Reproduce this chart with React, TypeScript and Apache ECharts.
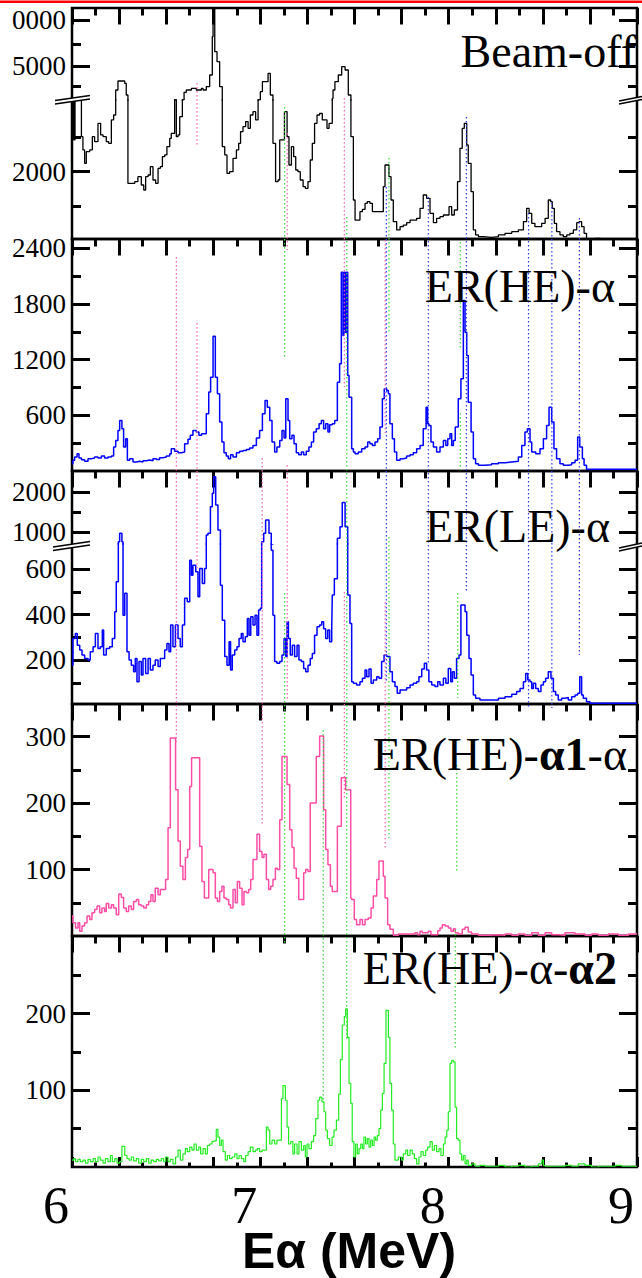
import React, { useEffect, useRef } from 'react';
import * as echarts from 'echarts';

// ---------------- data ----------------
const energyMin = 6;
const energyMax = 9;
const energyTickLabels = [6, 7, 8, 9];
const axisTitle = 'Eα (MeV)';

// [energy (MeV) at bin left edge, counts]
const beamOffCounts: [number, number][] = [
  [6.000, 2455], [6.005, 3100], [6.011, 2455], [6.016, 3040], [6.050, 2503], [6.058, 2311], [6.067, 2119], [6.076, 2287],
  [6.094, 2311], [6.108, 2503], [6.120, 2431], [6.138, 2695], [6.152, 2527], [6.165, 2503], [6.182, 2431], [6.195, 2407],
  [6.209, 2743], [6.221, 2814], [6.232, 3518], [6.244, 4023], [6.280, 3884], [6.288, 3264], [6.297, 1831], [6.333, 1855],
  [6.350, 1927], [6.368, 1807], [6.381, 1735], [6.391, 1927], [6.404, 1951], [6.416, 2071], [6.430, 1879], [6.444, 1831],
  [6.457, 2047], [6.469, 2071], [6.480, 2215], [6.492, 2239], [6.504, 2359], [6.519, 2479], [6.527, 2551], [6.545, 3040],
  [6.554, 2503], [6.563, 2527], [6.572, 2790], [6.586, 3040], [6.595, 3400], [6.607, 3518], [6.634, 3600], [6.660, 3518],
  [6.687, 3600], [6.696, 3518], [6.713, 3700], [6.731, 4400], [6.745, 7800], [6.749, 13000], [6.758, 6236], [6.770, 5369],
  [6.784, 3697], [6.798, 2359], [6.811, 2239], [6.823, 1975], [6.837, 1999], [6.855, 2191], [6.873, 2311], [6.885, 2407],
  [6.895, 2575], [6.908, 2647], [6.922, 2719], [6.935, 2623], [6.947, 2814], [6.961, 2862], [6.975, 2743], [6.988, 3040],
  [7.000, 3430], [7.011, 3984], [7.041, 4510], [7.053, 3264], [7.067, 2407], [7.081, 1855], [7.094, 1879], [7.103, 2455],
  [7.128, 2862], [7.142, 2503], [7.152, 2095], [7.165, 2359], [7.177, 2215], [7.188, 2023], [7.200, 1999], [7.212, 1879],
  [7.227, 1783], [7.239, 1759], [7.253, 1855], [7.265, 2167], [7.276, 2407], [7.288, 2695], [7.301, 2814], [7.315, 2838],
  [7.329, 2743], [7.354, 2623], [7.365, 2695], [7.382, 3100], [7.386, 3518], [7.396, 3984], [7.414, 4400], [7.432, 4982],
  [7.450, 4742], [7.467, 3264], [7.481, 2503], [7.494, 1591], [7.503, 1303], [7.529, 1423], [7.542, 1457], [7.556, 1543],
  [7.568, 1567], [7.582, 1543], [7.595, 1423], [7.653, 1783], [7.662, 2095], [7.683, 1927], [7.694, 1591], [7.706, 1279],
  [7.724, 1160], [7.742, 1207], [7.759, 1231], [7.777, 1265], [7.795, 1303], [7.830, 1327], [7.848, 1471], [7.865, 1663],
  [7.883, 1615], [7.901, 1399], [7.919, 1265], [7.936, 1327], [7.954, 1351], [7.972, 1375], [8.002, 1495], [8.016, 1375],
  [8.030, 1447], [8.047, 1855], [8.060, 2335], [8.072, 2623], [8.083, 2695], [8.096, 2383], [8.104, 2119], [8.119, 1711],
  [8.131, 1160], [8.143, 1088], [8.158, 1064], [8.184, 1054], [8.228, 1064], [8.264, 1088], [8.299, 1112], [8.335, 1136],
  [8.370, 1160], [8.397, 1279], [8.414, 1471], [8.427, 1399], [8.441, 1255], [8.458, 1207], [8.494, 1255], [8.512, 1327],
  [8.529, 1591], [8.542, 1567], [8.550, 1471], [8.561, 1255], [8.573, 1136], [8.591, 1088], [8.609, 1064], [8.627, 1088],
  [8.644, 1112], [8.662, 1160], [8.680, 1265], [8.692, 1279], [8.706, 1207], [8.719, 1112], [8.732, 1025], [8.777, 1040],
  [8.805, 1000], [9.000, 1000],
];

const erHeAlphaCounts: [number, number][] = [
  [6.000, 79], [6.005, 115], [6.014, 150], [6.027, 186], [6.037, 140], [6.050, 122], [6.067, 104], [6.085, 133],
  [6.103, 140], [6.120, 150], [6.138, 140], [6.156, 161], [6.173, 140], [6.191, 150], [6.209, 161], [6.221, 258],
  [6.232, 330], [6.244, 437], [6.253, 545], [6.265, 455], [6.274, 258], [6.285, 348], [6.294, 115], [6.306, 133],
  [6.324, 97], [6.342, 104], [6.359, 97], [6.377, 111], [6.395, 118], [6.412, 111], [6.430, 133], [6.448, 125],
  [6.465, 143], [6.483, 150], [6.501, 161], [6.519, 186], [6.527, 240], [6.545, 212], [6.563, 197], [6.581, 204],
  [6.598, 294], [6.616, 341], [6.628, 384], [6.642, 437], [6.660, 420], [6.674, 384], [6.688, 402], [6.713, 616],
  [6.726, 850], [6.736, 1011], [6.749, 1452], [6.761, 1011], [6.772, 832], [6.784, 527], [6.796, 312], [6.807, 197],
  [6.819, 161], [6.830, 133], [6.842, 176], [6.855, 150], [6.873, 197], [6.890, 212], [6.908, 222], [6.926, 233],
  [6.943, 247], [6.961, 276], [6.979, 355], [6.996, 437], [7.011, 616], [7.025, 760], [7.037, 688], [7.050, 545],
  [7.062, 312], [7.076, 204], [7.088, 258], [7.103, 330], [7.115, 437], [7.126, 355], [7.135, 778], [7.147, 545],
  [7.156, 348], [7.168, 384], [7.179, 294], [7.191, 197], [7.204, 176], [7.218, 204], [7.230, 176], [7.244, 212],
  [7.258, 258], [7.271, 312], [7.283, 420], [7.297, 455], [7.312, 509], [7.324, 545], [7.336, 455], [7.347, 509],
  [7.359, 420], [7.368, 498], [7.382, 509], [7.395, 545], [7.409, 957], [7.421, 1155], [7.430, 2141], [7.439, 1459],
  [7.444, 2141], [7.451, 1495], [7.457, 2141], [7.464, 1029], [7.471, 796], [7.485, 240], [7.494, 204], [7.503, 186],
  [7.520, 204], [7.538, 240], [7.556, 258], [7.570, 312], [7.582, 294], [7.595, 276], [7.609, 312], [7.623, 348],
  [7.635, 473], [7.648, 778], [7.658, 886], [7.671, 868], [7.680, 832], [7.688, 509], [7.701, 348], [7.712, 204],
  [7.724, 115], [7.742, 133], [7.759, 140], [7.777, 161], [7.795, 176], [7.812, 197], [7.830, 240], [7.848, 276],
  [7.865, 455], [7.880, 688], [7.888, 509], [7.895, 491], [7.906, 312], [7.919, 258], [7.936, 204], [7.954, 258],
  [7.972, 330], [7.985, 276], [7.995, 348], [8.007, 402], [8.016, 276], [8.025, 330], [8.035, 473], [8.051, 778],
  [8.065, 993], [8.078, 1836], [8.087, 1495], [8.096, 1244], [8.104, 742], [8.119, 420], [8.131, 133], [8.143, 79],
  [8.158, 61], [8.193, 68], [8.228, 79], [8.264, 90], [8.299, 97], [8.335, 104], [8.370, 150], [8.388, 276],
  [8.405, 420], [8.418, 455], [8.432, 312], [8.441, 204], [8.462, 186], [8.485, 240], [8.503, 348], [8.520, 491],
  [8.533, 688], [8.547, 527], [8.559, 240], [8.573, 133], [8.591, 79], [8.609, 61], [8.635, 68], [8.653, 90],
  [8.671, 115], [8.685, 366], [8.696, 258], [8.710, 133], [8.719, 61], [8.732, 18], [9.000, 18],
];

const erLeAlphaCounts: [number, number][] = [
  [6.000, 177], [6.005, 295], [6.018, 317], [6.028, 265], [6.041, 244], [6.053, 222], [6.067, 207], [6.085, 200],
  [6.097, 236], [6.112, 258], [6.124, 317], [6.138, 251], [6.150, 258], [6.161, 332], [6.168, 222], [6.182, 251],
  [6.200, 258], [6.214, 295], [6.227, 412], [6.235, 544], [6.246, 758], [6.253, 967], [6.265, 758], [6.271, 397],
  [6.280, 493], [6.292, 236], [6.303, 200], [6.315, 177], [6.327, 148], [6.336, 207], [6.345, 104], [6.356, 193],
  [6.368, 134], [6.377, 207], [6.391, 141], [6.404, 207], [6.416, 156], [6.430, 177], [6.442, 200], [6.457, 171],
  [6.469, 207], [6.492, 244], [6.504, 273], [6.515, 236], [6.524, 354], [6.536, 258], [6.549, 354], [6.563, 295],
  [6.575, 258], [6.586, 354], [6.598, 471], [6.612, 456], [6.625, 639], [6.634, 573], [6.642, 617], [6.657, 588],
  [6.669, 478], [6.678, 602], [6.692, 536], [6.704, 602], [6.713, 925], [6.722, 967], [6.735, 1633], [6.745, 1967],
  [6.752, 2383], [6.763, 1675], [6.775, 1050], [6.788, 529], [6.798, 375], [6.811, 215], [6.823, 177], [6.834, 280],
  [6.842, 156], [6.851, 222], [6.864, 244], [6.876, 258], [6.887, 295], [6.899, 317], [6.908, 280], [6.920, 302],
  [6.931, 383], [6.940, 309], [6.949, 390], [6.961, 354], [6.972, 397], [6.982, 309], [6.991, 420], [7.000, 427],
  [7.007, 758], [7.018, 967], [7.028, 1300], [7.046, 967], [7.058, 683], [7.067, 397], [7.076, 193], [7.088, 186],
  [7.103, 193], [7.115, 222], [7.126, 295], [7.135, 215], [7.142, 368], [7.149, 295], [7.159, 222], [7.170, 265],
  [7.182, 215], [7.195, 265], [7.205, 200], [7.218, 193], [7.230, 163], [7.241, 148], [7.253, 177], [7.265, 207],
  [7.276, 229], [7.288, 309], [7.301, 346], [7.315, 354], [7.326, 368], [7.336, 337], [7.347, 295], [7.358, 332],
  [7.368, 280], [7.379, 337], [7.382, 486], [7.393, 557], [7.409, 842], [7.423, 1133], [7.435, 1740], [7.450, 1133],
  [7.464, 486], [7.476, 361], [7.485, 104], [7.494, 98], [7.511, 90], [7.529, 104], [7.542, 120], [7.556, 156],
  [7.565, 126], [7.577, 160], [7.588, 98], [7.600, 112], [7.618, 126], [7.630, 120], [7.644, 193], [7.657, 222],
  [7.671, 215], [7.688, 148], [7.701, 104], [7.715, 83], [7.727, 54], [7.742, 68], [7.777, 78], [7.795, 90],
  [7.812, 98], [7.830, 104], [7.842, 126], [7.857, 160], [7.871, 186], [7.883, 156], [7.895, 104], [7.910, 90],
  [7.927, 83], [7.942, 104], [7.954, 90], [7.972, 120], [7.985, 98], [7.998, 163], [8.011, 104], [8.020, 148],
  [8.030, 120], [8.042, 207], [8.055, 222], [8.065, 442], [8.087, 412], [8.096, 309], [8.108, 207], [8.119, 134],
  [8.131, 46], [8.143, 32], [8.166, 24], [8.228, 24], [8.264, 32], [8.299, 39], [8.335, 49], [8.361, 61],
  [8.379, 75], [8.397, 104], [8.409, 141], [8.420, 112], [8.432, 104], [8.441, 75], [8.450, 98], [8.462, 75],
  [8.476, 61], [8.490, 90], [8.503, 104], [8.515, 120], [8.529, 148], [8.543, 120], [8.556, 61], [8.568, 46],
  [8.582, 24], [8.600, 32], [8.618, 35], [8.635, 24], [8.653, 39], [8.671, 46], [8.685, 54], [8.696, 126],
  [8.706, 46], [8.715, 32], [8.732, 17], [8.750, 10], [9.000, 10],
];

const erHeAlpha1AlphaCounts: [number, number][] = [
  [6.000, 30], [6.005, 20], [6.019, 12], [6.032, 20], [6.041, 7], [6.053, 15], [6.067, 20], [6.080, 30],
  [6.094, 25], [6.106, 35], [6.120, 40], [6.133, 45], [6.147, 35], [6.159, 42], [6.173, 37], [6.182, 49],
  [6.195, 42], [6.209, 47], [6.221, 42], [6.235, 32], [6.248, 63], [6.262, 58], [6.274, 42], [6.288, 37],
  [6.301, 45], [6.315, 40], [6.327, 52], [6.342, 55], [6.354, 47], [6.368, 45], [6.381, 42], [6.395, 47],
  [6.407, 52], [6.419, 62], [6.430, 52], [6.442, 72], [6.457, 62], [6.469, 70], [6.497, 85], [6.510, 163],
  [6.522, 298], [6.550, 220], [6.563, 143], [6.575, 105], [6.589, 85], [6.602, 118], [6.614, 130], [6.625, 225],
  [6.635, 268], [6.678, 135], [6.690, 82], [6.703, 57], [6.726, 100], [6.749, 95], [6.761, 57], [6.772, 52],
  [6.784, 67], [6.796, 75], [6.807, 57], [6.819, 55], [6.832, 47], [6.842, 42], [6.855, 70], [6.867, 50],
  [6.878, 82], [6.890, 72], [6.903, 47], [6.913, 67], [6.926, 65], [6.938, 70], [6.949, 85], [6.961, 115],
  [6.982, 153], [6.996, 127], [7.009, 118], [7.019, 123], [7.032, 85], [7.044, 70], [7.055, 75], [7.067, 85],
  [7.080, 102], [7.090, 100], [7.103, 175], [7.115, 270], [7.142, 228], [7.156, 160], [7.168, 133], [7.179, 102],
  [7.191, 87], [7.204, 55], [7.230, 95], [7.241, 100], [7.253, 97], [7.265, 200], [7.297, 270], [7.315, 301],
  [7.336, 190], [7.347, 130], [7.359, 107], [7.372, 75], [7.382, 67], [7.409, 165], [7.430, 238], [7.453, 220],
  [7.480, 57], [7.485, 55], [7.499, 25], [7.511, 17], [7.529, 25], [7.542, 17], [7.556, 25], [7.573, 27],
  [7.588, 42], [7.600, 60], [7.618, 85], [7.630, 113], [7.653, 90], [7.662, 57], [7.676, 17], [7.688, 10],
  [7.706, 1], [7.733, 3], [7.821, 5], [7.835, 2], [7.848, 7], [7.860, 5], [7.892, 7], [7.906, 2],
  [7.942, 8], [7.954, 12], [7.966, 17], [7.981, 15], [7.998, 12], [8.012, 7], [8.025, 11], [8.035, 5],
  [8.051, 3], [8.072, 10], [8.087, 13], [8.104, 6], [8.122, 3], [8.158, 1], [8.212, 2], [8.264, 1],
  [8.299, 3], [8.335, 1], [8.370, 3], [8.405, 1], [8.441, 5], [8.476, 1], [8.512, 5], [8.547, 2],
  [8.582, 1], [8.618, 5], [8.671, 3], [8.724, 1], [8.759, 3], [8.795, 1], [8.848, 3], [8.902, 1],
  [8.955, 3], [9.000, 3],
];

const erHeAlphaAlpha2Counts: [number, number][] = [
  [6.000, 9], [6.009, 11], [6.019, 7], [6.032, 10], [6.044, 7], [6.058, 9], [6.071, 5], [6.085, 10],
  [6.097, 7], [6.112, 11], [6.124, 7], [6.138, 13], [6.150, 9], [6.165, 5], [6.177, 11], [6.191, 7],
  [6.204, 15], [6.214, 7], [6.227, 11], [6.239, 5], [6.253, 7], [6.265, 27], [6.280, 15], [6.292, 11],
  [6.303, 9], [6.315, 13], [6.327, 8], [6.342, 11], [6.354, 5], [6.368, 10], [6.381, 7], [6.395, 11],
  [6.407, 5], [6.421, 9], [6.434, 7], [6.448, 10], [6.460, 8], [6.474, 11], [6.487, 7], [6.497, 13],
  [6.510, 7], [6.522, 10], [6.536, 4], [6.550, 13], [6.563, 22], [6.575, 9], [6.589, 17], [6.602, 24],
  [6.612, 20], [6.625, 26], [6.637, 22], [6.648, 30], [6.660, 22], [6.673, 26], [6.683, 17], [6.696, 24],
  [6.708, 17], [6.719, 28], [6.731, 30], [6.743, 33], [6.754, 34], [6.766, 49], [6.775, 39], [6.784, 28],
  [6.793, 35], [6.802, 20], [6.814, 9], [6.825, 15], [6.837, 11], [6.850, 13], [6.864, 17], [6.876, 11],
  [6.887, 15], [6.899, 11], [6.912, 7], [6.922, 15], [6.935, 20], [6.947, 26], [6.961, 20], [6.974, 22],
  [6.984, 24], [6.996, 20], [7.009, 22], [7.032, 52], [7.041, 48], [7.050, 30], [7.062, 35], [7.076, 30],
  [7.088, 35], [7.112, 89], [7.120, 106], [7.133, 87], [7.142, 52], [7.150, 30], [7.161, 33], [7.173, 17],
  [7.182, 30], [7.195, 17], [7.205, 33], [7.218, 22], [7.230, 28], [7.239, 13], [7.248, 30], [7.258, 24],
  [7.271, 33], [7.283, 41], [7.294, 63], [7.306, 87], [7.315, 91], [7.327, 85], [7.338, 72], [7.347, 48],
  [7.356, 37], [7.368, 28], [7.381, 39], [7.391, 48], [7.404, 61], [7.416, 95], [7.425, 140], [7.435, 185],
  [7.446, 196], [7.453, 206], [7.462, 169], [7.471, 109], [7.480, 83], [7.488, 33], [7.497, 13], [7.506, 30],
  [7.515, 17], [7.524, 24], [7.533, 30], [7.542, 24], [7.550, 39], [7.559, 30], [7.568, 37], [7.577, 26],
  [7.586, 35], [7.595, 28], [7.604, 39], [7.612, 35], [7.621, 41], [7.630, 50], [7.639, 74], [7.648, 96],
  [7.657, 135], [7.667, 204], [7.680, 169], [7.688, 109], [7.697, 74], [7.706, 30], [7.715, 9], [7.733, 13],
  [7.750, 9], [7.759, 17], [7.772, 22], [7.782, 15], [7.795, 22], [7.807, 17], [7.818, 11], [7.830, 4],
  [7.842, 13], [7.853, 20], [7.865, 15], [7.878, 22], [7.888, 26], [7.901, 33], [7.913, 22], [7.924, 28],
  [7.936, 20], [7.949, 24], [7.959, 15], [7.972, 30], [7.981, 39], [7.990, 48], [7.998, 72], [8.007, 135],
  [8.016, 139], [8.025, 137], [8.034, 78], [8.042, 37], [8.051, 35], [8.060, 17], [8.069, 9], [8.078, 15],
  [8.087, 4], [8.096, 9], [8.104, 2], [8.122, 4], [8.140, 1], [8.166, 2], [8.193, 1], [8.264, 2],
  [8.299, 0], [8.335, 1], [8.370, 2], [8.405, 0], [8.441, 1], [8.476, 4], [8.494, 9], [8.503, 2],
  [8.512, 1], [8.618, 2], [8.653, 1], [8.688, 4], [8.724, 2], [8.759, 0], [8.795, 1], [8.884, 2],
  [8.920, 1], [9.000, 1],
];

// y-axis tick values (major ones carry labels)
const beamOffUpperMajor = [5000, 10000];
const beamOffUpperMinor = [3700, 7000];
const beamOffLowerMajor = [2000];
const beamOffLowerMinor = [1500, 2500];
const erHeAlphaMajor = [600, 1200, 1800, 2400];
const erHeAlphaMinor = [300, 900, 1500, 2100];
const erLeUpperMajor = [1000, 2000];
const erLeUpperMinor = [1500];
const erLeLowerMajor = [200, 400, 600];
const erLeLowerMinor = [100, 300, 500];
const alpha1Major = [100, 200, 300];
const alpha1Minor = [50, 150, 250];
const alpha2Major = [100, 200];
const alpha2Minor = [50, 150, 250];

// peak marker lines: [energy (MeV), figure row from, figure row to]
const pinkMarkers: [number, number, number][] = [
  [6.554, 257, 742], [6.664, 83, 147], [6.664, 323, 570], [7.010, 458, 825], [7.143, 133, 250],
  [7.143, 465, 700], [7.446, 98, 387], [7.446, 592, 800], [7.663, 240, 433], [7.663, 602, 848],
];
const greenMarkers: [number, number, number][] = [
  [7.129, 107, 357], [7.129, 593, 945], [7.334, 730, 1103], [7.459, 217, 1040], [7.683, 158, 333],
  [7.683, 537, 838], [8.062, 242, 350], [8.062, 413, 470], [8.048, 593, 698], [8.043, 765, 872], [8.035, 930, 1048],
];
const blueMarkers: [number, number, number][] = [
  [7.669, 187, 682], [7.892, 197, 665], [8.094, 117, 592], [8.424, 213, 708], [8.548, 203, 708], [8.694, 218, 655],
];

// ---------------- layout & style ----------------
const OX = 10;
const PAGE_W = 642;
const PAGE_H = 1278;
const PLOT_LEFT = 72 + OX;
const PLOT_WIDTH = 565;
const SERIF = "'Liberation Serif', 'Times New Roman', Times, serif";
const SANS = "'Liberation Sans', Arial, Helvetica, sans-serif";
const TICK = { color: '#000', width: 3 };

function buildOption() {
  const grid: any[] = [];
  const xAxis: any[] = [];
  const yAxis: any[] = [];
  const series: any[] = [];
  const graphic: any[] = [];

  const addGrid = (top: number, height: number, border: boolean) => {
    grid.push({
      left: PLOT_LEFT, width: PLOT_WIDTH, top, height, show: border,
      borderColor: '#000', borderWidth: 2.5, backgroundColor: 'transparent',
      containLabel: false, outerBoundsMode: 'none',
    });
    return grid.length - 1;
  };
  const addTopX = (gi: number) => {
    xAxis.push({
      gridIndex: gi, type: 'value', position: 'top', min: energyMin, max: energyMax, interval: 0.25,
      axisLine: { show: false, onZero: false },
      axisTick: { show: true, inside: true, length: 16.5, lineStyle: TICK },
      minorTick: { show: true, splitNumber: 2, length: 7.5, lineStyle: TICK },
      axisLabel: { show: false }, splitLine: { show: false }, minorSplitLine: { show: false },
    });
    return xAxis.length - 1;
  };
  const addHiddenX = (gi: number) => {
    xAxis.push({ gridIndex: gi, type: 'value', min: energyMin, max: energyMax, show: false, axisLine: { onZero: false } });
    return xAxis.length - 1;
  };
  const addHiddenY = (gi: number, min = 0, max = 1, inverse = false) => {
    yAxis.push({ gridIndex: gi, type: 'value', min, max, inverse, show: false, axisLine: { onZero: false } });
    return yAxis.length - 1;
  };
  const addYAxes = (gi: number, min: number, max: number, major: number[], minor: number[], fmt: (v: number) => string) => {
    const base = {
      gridIndex: gi, type: 'value', min, max,
      axisLine: { show: false, onZero: false }, splitLine: { show: false }, minorTick: { show: false },
    };
    yAxis.push({
      ...base, position: 'left',
      axisTick: { show: true, inside: true, length: 18, lineStyle: TICK, customValues: major },
      axisLabel: { show: true, customValues: major, formatter: fmt, fontFamily: SERIF, fontSize: 27, color: '#000', margin: 6 },
    });
    const idx = yAxis.length - 1;
    yAxis.push({ ...base, position: 'left', axisTick: { show: true, inside: true, length: 9, lineStyle: TICK, customValues: minor }, axisLabel: { show: false } });
    yAxis.push({ ...base, position: 'right', axisTick: { show: true, inside: true, length: 18, lineStyle: TICK, customValues: major }, axisLabel: { show: false } });
    yAxis.push({ ...base, position: 'right', axisTick: { show: true, inside: true, length: 9, lineStyle: TICK, customValues: minor }, axisLabel: { show: false } });
    return idx;
  };
  const addHist = (xi: number, yi: number, data: number[][], color: string, width: number) => {
    series.push({
      type: 'line', xAxisIndex: xi, yAxisIndex: yi, data, step: 'end', symbol: 'none', showSymbol: false,
      lineStyle: { color, width }, clip: true, silent: true, z: 3,
    });
  };
  const plain = (v: number) => String(Math.round(v));
  const fromLog = (v: number) => String(Math.round(Math.pow(10, v)));
  const lg = (a: number[]) => a.map((v) => Math.log10(v));

  // Panel 1: Beam-off (broken axis, log upper part)
  const f1 = addGrid(8, 231, true);
  addTopX(f1); addHiddenY(f1);
  const g1u = addGrid(8, 92, false);
  const x1u = addHiddenX(g1u);
  const y1u = addYAxes(g1u, Math.log10(3030), Math.log10(11960), lg(beamOffUpperMajor), lg(beamOffUpperMinor), fromLog);
  addHist(x1u, y1u, beamOffCounts.map(([e, c]) => [e, Math.log10(c)]), '#000000', 1.3);
  const g1l = addGrid(100, 139, false);
  const x1l = addHiddenX(g1l);
  const y1l = addYAxes(g1l, 1030, 3030, beamOffLowerMajor, beamOffLowerMinor, plain);
  addHist(x1l, y1l, beamOffCounts, '#000000', 1.3);

  // Panel 2: ER(HE)-alpha
  const g2 = addGrid(239, 232, true);
  const x2 = addTopX(g2);
  const y2 = addYAxes(g2, 0, 2500, erHeAlphaMajor, erHeAlphaMinor, plain);
  addHist(x2, y2, erHeAlphaCounts, '#0000ff', 1.5);

  // Panel 3: ER(LE)-alpha (broken axis)
  const f3 = addGrid(471, 233, true);
  addTopX(f3); addHiddenY(f3);
  const g3u = addGrid(471, 73, false);
  const x3u = addHiddenX(g3u);
  const y3u = addYAxes(g3u, 700, 2525, erLeUpperMajor, erLeUpperMinor, plain);
  addHist(x3u, y3u, erLeAlphaCounts, '#0000ff', 1.5);
  const g3l = addGrid(544, 161.5, false);
  const x3l = addHiddenX(g3l);
  const y3l = addYAxes(g3l, 0, 710, erLeLowerMajor, erLeLowerMinor, plain);
  addHist(x3l, y3l, erLeAlphaCounts, '#0000ff', 1.5);

  // Panel 4: ER(HE)-alpha1-alpha
  const g4 = addGrid(704, 232, true);
  const x4 = addTopX(g4);
  const y4 = addYAxes(g4, 0, 349, alpha1Major, alpha1Minor, plain);
  addHist(x4, y4, erHeAlpha1AlphaCounts, '#ff4da6', 1.5);

  // Panel 5: ER(HE)-alpha-alpha2
  const g5 = addGrid(936, 231, true);
  const x5 = addTopX(g5);
  xAxis.push({
    gridIndex: g5, type: 'value', position: 'bottom', min: energyMin, max: energyMax, interval: 0.25,
    axisLine: { show: false, onZero: false },
    axisTick: { show: true, inside: true, length: 10, lineStyle: TICK },
    minorTick: { show: true, splitNumber: 2, length: 4.5, lineStyle: TICK },
    axisLabel: {
      show: true, customValues: energyTickLabels, showMinLabel: true, showMaxLabel: true,
      formatter: (v: number) => String(v),
      fontFamily: SERIF, fontSize: 52, lineHeight: 40, color: '#000', margin: 18, align: 'right', padding: [0, 3, 0, 0],
    },
    splitLine: { show: false },
  });
  const y5 = addYAxes(g5, 0, 301, alpha2Major, alpha2Minor, plain);
  addHist(x5, y5, erHeAlphaAlpha2Counts, '#22ee22', 1.2);

  // Overlay for peak marker lines
  const gov = addGrid(0, PAGE_H, false);
  const xov = addHiddenX(gov);
  const yov = addHiddenY(gov, 0, PAGE_H, true);
  const addMarkers = (list: [number, number, number][], color: string) => {
    list.forEach(([e, a, b]) => {
      series.push({
        type: 'line', xAxisIndex: xov, yAxisIndex: yov, data: [[e, a], [e, b]], symbol: 'none',
        lineStyle: { color, width: 1.2, type: [1.5, 2.5] }, clip: false, silent: true, z: 4,
      });
    });
  };
  addMarkers(pinkMarkers, '#ff5fb0');
  addMarkers(greenMarkers, '#33dd33');
  addMarkers(blueMarkers, '#2a3bff');

  // graphics: top red rule, crop mask at far left, break marks, titles, x title
  graphic.push({ type: 'rect', shape: { x: 0, y: 0.5, width: PAGE_W + OX, height: 2.5 }, style: { fill: '#ff0000' }, z: 100 });
  graphic.push({ type: 'rect', shape: { x: 0, y: 8, width: OX + 11.5, height: 26 }, style: { fill: '#ffffff' }, z: 100 });
  const breakMark = (x1: number, y1: number, x2: number, y2: number, gap: number) => {
    graphic.push({ type: 'polygon', shape: { points: [[x1, y1], [x2, y2], [x2, y2 + gap], [x1, y1 + gap]] }, style: { fill: '#ffffff' }, z: 100 });
    graphic.push({ type: 'line', shape: { x1, y1, x2, y2 }, style: { stroke: '#000', lineWidth: 1.5 }, z: 101 });
    graphic.push({ type: 'line', shape: { x1, y1: y1 + gap, x2, y2: y2 + gap }, style: { stroke: '#000', lineWidth: 1.5 }, z: 101 });
  };
  breakMark(55 + OX, 100.5, 90 + OX, 95.5, 3.5);
  breakMark(619 + OX, 101, 642 + OX, 96.5, 3);
  breakMark(53 + OX, 547, 90 + OX, 541.5, 3.5);
  breakMark(619 + OX, 548, 642 + OX, 543, 3);

  const titleRich = {
    n: { fontFamily: SERIF, fontSize: 46, fill: '#000' },
    b: { fontFamily: SERIF, fontSize: 46, fontWeight: 'bold', fill: '#000' },
  };
  const addTitle = (text: string, right: number, y: number) => {
    graphic.push({
      type: 'text', x: right + OX, y, z: 100,
      style: { text, rich: titleRich, align: 'right', verticalAlign: 'middle', fill: '#000', fontFamily: SERIF, fontSize: 46 },
    });
  };
  addTitle('{n|Beam-off}', 636, 51);
  addTitle('{n|ER(HE)-α}', 615, 286);
  addTitle('{n|ER(LE)-α}', 610, 526);
  addTitle('{n|ER(HE)-}{b|α1}{n|-α}', 627, 754.5);
  addTitle('{n|ER(HE)-α-}{b|α2}', 617, 968);

  graphic.push({
    type: 'text', x: 349 + OX, y: 1251, z: 100,
    style: { text: axisTitle, fontFamily: SANS, fontSize: 50, lineHeight: 40, fontWeight: 'bold', fill: '#000', align: 'center', verticalAlign: 'middle' },
  });

  return { animation: false, backgroundColor: '#ffffff', grid, xAxis, yAxis, series, graphic };
}

export default function App() {
  const ref = useRef<HTMLDivElement>(null);
  useEffect(() => {
    if (!ref.current) return;
    const chart = echarts.init(ref.current, undefined, { renderer: 'svg' });
    chart.setOption(buildOption() as any);
    return () => chart.dispose();
  }, []);
  return (
    <div
      ref={ref}
      style={{ position: 'absolute', left: -OX, top: 0, width: PAGE_W + OX, height: PAGE_H }}
    />
  );
}
